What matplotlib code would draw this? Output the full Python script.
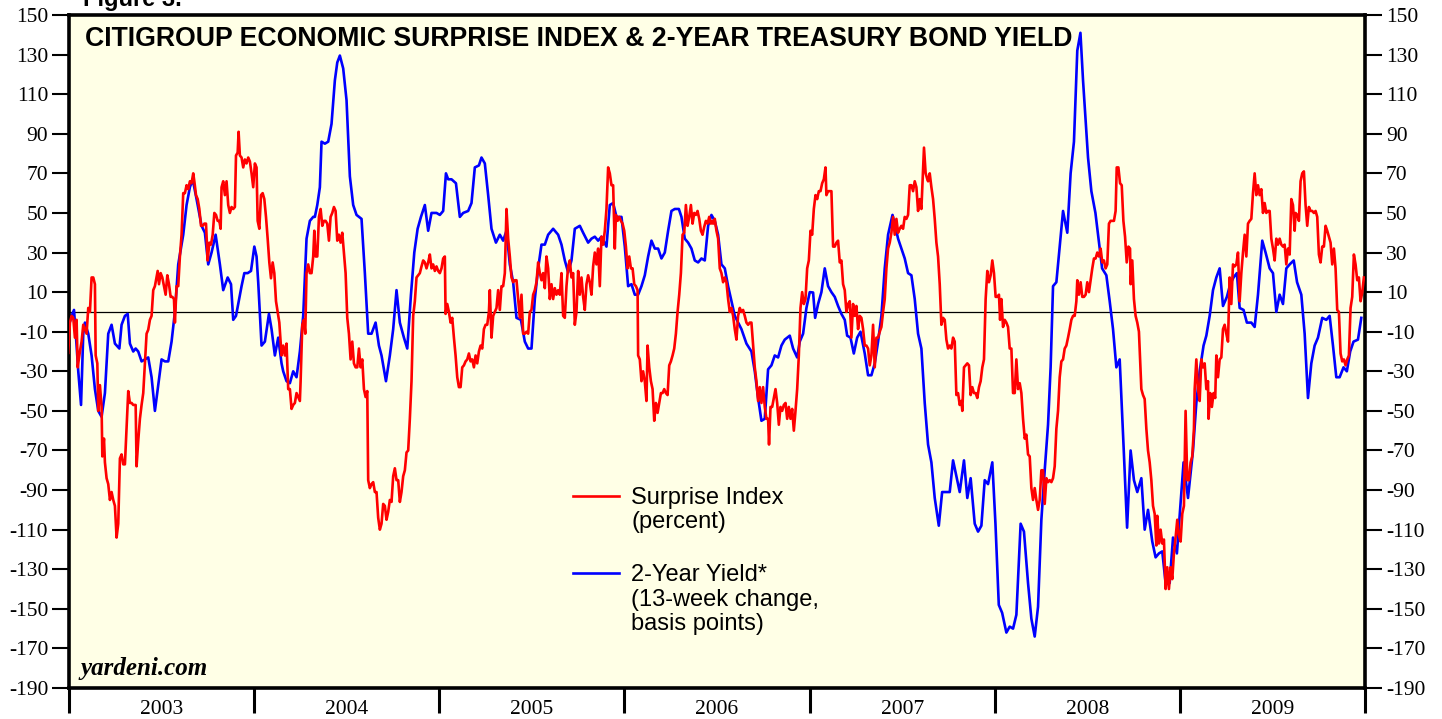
import matplotlib
matplotlib.use("Agg")
import matplotlib.pyplot as plt
from matplotlib.ticker import FixedLocator, NullFormatter

# Citigroup Economic Surprise Index (percent), decimal year / value
surprise_t = [
    2002.996, 2003.005, 2003.014, 2003.023, 2003.032, 2003.041, 2003.047, 2003.059, 2003.068, 2003.077,
    2003.086, 2003.095, 2003.104, 2003.113, 2003.122, 2003.131, 2003.140, 2003.144, 2003.153, 2003.158,
    2003.167, 2003.176, 2003.180, 2003.189, 2003.194, 2003.203, 2003.212, 2003.221, 2003.230, 2003.239,
    2003.248, 2003.257, 2003.266, 2003.275, 2003.284, 2003.293, 2003.302, 2003.311, 2003.320, 2003.329,
    2003.338, 2003.347, 2003.360, 2003.365, 2003.374, 2003.383, 2003.392, 2003.401, 2003.410, 2003.419,
    2003.428, 2003.437, 2003.446, 2003.455, 2003.464, 2003.479, 2003.486, 2003.495, 2003.504, 2003.513,
    2003.522, 2003.531, 2003.540, 2003.549, 2003.558, 2003.567, 2003.572, 2003.581, 2003.590, 2003.599,
    2003.608, 2003.617, 2003.626, 2003.635, 2003.644, 2003.653, 2003.662, 2003.671, 2003.677, 2003.686,
    2003.695, 2003.704, 2003.713, 2003.722, 2003.731, 2003.740, 2003.749, 2003.758, 2003.767, 2003.776,
    2003.785, 2003.794, 2003.803, 2003.812, 2003.819, 2003.824, 2003.833, 2003.842, 2003.851, 2003.860,
    2003.869, 2003.878, 2003.887, 2003.896, 2003.902, 2003.911, 2003.916, 2003.923, 2003.932, 2003.941,
    2003.950, 2003.959, 2003.968, 2003.977, 2003.986, 2003.995, 2004.004, 2004.013, 2004.019, 2004.028,
    2004.037, 2004.046, 2004.055, 2004.064, 2004.073, 2004.082, 2004.091, 2004.100, 2004.109, 2004.118,
    2004.127, 2004.136,
    2004.148, 2004.157, 2004.166, 2004.175, 2004.184, 2004.193, 2004.202, 2004.211, 2004.220, 2004.229,
    2004.238, 2004.247, 2004.251, 2004.260, 2004.269, 2004.276, 2004.283, 2004.292, 2004.301, 2004.310,
    2004.319, 2004.325, 2004.332, 2004.341, 2004.350, 2004.359, 2004.368, 2004.377, 2004.386, 2004.395,
    2004.404, 2004.413, 2004.422, 2004.431, 2004.440, 2004.449, 2004.458, 2004.467, 2004.476, 2004.485,
    2004.494, 2004.503, 2004.512, 2004.521, 2004.530, 2004.539, 2004.548, 2004.557, 2004.566, 2004.575,
    2004.584, 2004.593, 2004.602, 2004.611, 2004.616, 2004.625, 2004.634, 2004.643, 2004.652, 2004.661,
    2004.670, 2004.679, 2004.688, 2004.697, 2004.706, 2004.715, 2004.724, 2004.733, 2004.742, 2004.751,
    2004.760, 2004.769, 2004.778, 2004.787, 2004.796, 2004.805, 2004.814, 2004.823, 2004.832, 2004.841,
    2004.850, 2004.859, 2004.868, 2004.877, 2004.886, 2004.895, 2004.904, 2004.913, 2004.922, 2004.931,
    2004.940, 2004.949, 2004.958, 2004.967, 2004.976, 2004.985, 2004.994, 2005.003, 2005.012, 2005.021,
    2005.030, 2005.034, 2005.043, 2005.052, 2005.061, 2005.070, 2005.079, 2005.088, 2005.097, 2005.106,
    2005.115, 2005.124, 2005.133, 2005.142, 2005.151, 2005.160, 2005.169, 2005.178, 2005.187, 2005.196,
    2005.205, 2005.214, 2005.223, 2005.232, 2005.241, 2005.250, 2005.259, 2005.268, 2005.273, 2005.282,
    2005.291, 2005.300,
    2005.309, 2005.318, 2005.327, 2005.336, 2005.345, 2005.354, 2005.363, 2005.372, 2005.381, 2005.390,
    2005.399, 2005.408, 2005.417, 2005.426, 2005.435, 2005.444, 2005.453, 2005.462, 2005.471, 2005.480,
    2005.489, 2005.498, 2005.507, 2005.516, 2005.525, 2005.534, 2005.543, 2005.552, 2005.561, 2005.570,
    2005.579, 2005.588, 2005.597, 2005.606, 2005.615, 2005.624, 2005.633, 2005.642, 2005.651, 2005.660,
    2005.669, 2005.678, 2005.687, 2005.696, 2005.705, 2005.714, 2005.723, 2005.732, 2005.741, 2005.750,
    2005.759, 2005.768, 2005.777, 2005.786, 2005.795, 2005.804, 2005.813, 2005.822, 2005.831, 2005.840,
    2005.849, 2005.858, 2005.867, 2005.876, 2005.885, 2005.894, 2005.903, 2005.912, 2005.921, 2005.930,
    2005.939, 2005.948, 2005.954, 2005.963, 2005.972, 2005.981, 2005.990, 2005.999, 2006.008, 2006.017,
    2006.026, 2006.035, 2006.044, 2006.053, 2006.062, 2006.071, 2006.074, 2006.083, 2006.092, 2006.101,
    2006.110, 2006.119, 2006.125, 2006.134, 2006.143, 2006.152, 2006.161, 2006.170, 2006.179, 2006.188,
    2006.197, 2006.206, 2006.215, 2006.224, 2006.233, 2006.242, 2006.251, 2006.260, 2006.269, 2006.278,
    2006.287, 2006.296, 2006.305, 2006.314, 2006.323, 2006.332, 2006.341, 2006.350, 2006.359, 2006.368,
    2006.377, 2006.386, 2006.395, 2006.404, 2006.413, 2006.422, 2006.431, 2006.440, 2006.449, 2006.458,
    2006.467, 2006.476,
    2006.479, 2006.488, 2006.497, 2006.506, 2006.515, 2006.524, 2006.533, 2006.542, 2006.551, 2006.560,
    2006.569, 2006.578, 2006.587, 2006.596, 2006.605, 2006.614, 2006.623, 2006.632, 2006.641, 2006.650,
    2006.659, 2006.668, 2006.677, 2006.686, 2006.695, 2006.704, 2006.713, 2006.722, 2006.731, 2006.740,
    2006.749, 2006.758, 2006.767, 2006.776, 2006.781, 2006.789, 2006.798, 2006.807, 2006.816, 2006.825,
    2006.834, 2006.843, 2006.852, 2006.861, 2006.870, 2006.879, 2006.888, 2006.897, 2006.906, 2006.915,
    2006.924, 2006.933, 2006.942, 2006.951, 2006.960, 2006.969, 2006.978, 2006.987, 2006.996, 2007.005,
    2007.014, 2007.023, 2007.032, 2007.041, 2007.050, 2007.059, 2007.068, 2007.077, 2007.086, 2007.091,
    2007.100, 2007.109, 2007.118, 2007.127, 2007.136, 2007.145, 2007.154, 2007.163, 2007.172, 2007.181,
    2007.190, 2007.199, 2007.208, 2007.217, 2007.226, 2007.235, 2007.244, 2007.253, 2007.262, 2007.271,
    2007.280, 2007.289, 2007.298, 2007.307, 2007.316, 2007.325, 2007.334, 2007.343, 2007.352, 2007.361,
    2007.370, 2007.379, 2007.388, 2007.397, 2007.406, 2007.415, 2007.424, 2007.433, 2007.442, 2007.451,
    2007.460, 2007.469, 2007.478, 2007.487, 2007.496, 2007.505, 2007.514, 2007.523, 2007.532, 2007.541,
    2007.550, 2007.559, 2007.568, 2007.577, 2007.586, 2007.595, 2007.604, 2007.613, 2007.618, 2007.627,
    2007.636,
    2007.640, 2007.649, 2007.658, 2007.667, 2007.676, 2007.685, 2007.694, 2007.703, 2007.712, 2007.721,
    2007.730, 2007.739, 2007.748, 2007.757, 2007.766, 2007.775, 2007.784, 2007.793, 2007.802, 2007.811,
    2007.820, 2007.825, 2007.834, 2007.843, 2007.852, 2007.861, 2007.870, 2007.879, 2007.888, 2007.897,
    2007.906, 2007.915, 2007.924, 2007.933, 2007.942, 2007.951, 2007.960, 2007.969, 2007.978, 2007.987,
    2007.996, 2008.005, 2008.014, 2008.023, 2008.029, 2008.036, 2008.045, 2008.054, 2008.063, 2008.072,
    2008.081, 2008.090, 2008.099, 2008.108, 2008.117, 2008.126, 2008.135, 2008.144, 2008.153, 2008.162,
    2008.171, 2008.180, 2008.189, 2008.198, 2008.207, 2008.216, 2008.225, 2008.234, 2008.243, 2008.252,
    2008.261, 2008.270, 2008.279, 2008.288, 2008.297, 2008.306, 2008.315, 2008.324, 2008.333, 2008.342,
    2008.351, 2008.360, 2008.369, 2008.378, 2008.387, 2008.396, 2008.405, 2008.414, 2008.423, 2008.432,
    2008.441, 2008.446, 2008.455, 2008.464, 2008.473, 2008.482, 2008.491, 2008.500, 2008.509, 2008.518,
    2008.527, 2008.536, 2008.545, 2008.554, 2008.563, 2008.572, 2008.581, 2008.590, 2008.599, 2008.608,
    2008.617, 2008.626, 2008.635, 2008.644, 2008.653, 2008.659, 2008.668, 2008.677, 2008.686, 2008.695,
    2008.704, 2008.713, 2008.722, 2008.731, 2008.734, 2008.743, 2008.752, 2008.761, 2008.770, 2008.779,
    2008.792, 2008.801, 2008.810, 2008.819, 2008.828, 2008.837, 2008.846, 2008.855, 2008.864, 2008.873,
    2008.878, 2008.887, 2008.896, 2008.905, 2008.914, 2008.923, 2008.932, 2008.941, 2008.950, 2008.959,
    2008.968, 2008.977, 2008.986, 2008.995, 2009.004, 2009.013, 2009.022, 2009.031, 2009.040, 2009.049,
    2009.058, 2009.067, 2009.076, 2009.080, 2009.089, 2009.098, 2009.107, 2009.116, 2009.125, 2009.134,
    2009.143, 2009.152, 2009.155, 2009.164, 2009.173, 2009.182, 2009.191, 2009.197, 2009.206, 2009.215,
    2009.224, 2009.233, 2009.242, 2009.251, 2009.260, 2009.269, 2009.278, 2009.287, 2009.296, 2009.305,
    2009.314, 2009.323, 2009.332, 2009.341, 2009.350, 2009.359, 2009.368, 2009.377, 2009.386, 2009.395,
    2009.404, 2009.413, 2009.422, 2009.431, 2009.440, 2009.449, 2009.458, 2009.467, 2009.476, 2009.485,
    2009.494, 2009.503, 2009.512, 2009.521, 2009.530, 2009.539, 2009.548, 2009.557, 2009.566, 2009.575,
    2009.584, 2009.593, 2009.602, 2009.611, 2009.620, 2009.625, 2009.634, 2009.643, 2009.652, 2009.661,
    2009.670, 2009.679, 2009.688, 2009.697, 2009.706, 2009.715, 2009.724, 2009.733, 2009.742, 2009.751,
    2009.760, 2009.769, 2009.778, 2009.787, 2009.796, 2009.805, 2009.814, 2009.823, 2009.832, 2009.841,
    2009.850, 2009.859, 2009.868, 2009.877, 2009.886, 2009.895, 2009.904, 2009.913, 2009.922, 2009.931,
    2009.940, 2009.949, 2009.958, 2009.967, 2009.976, 2009.985, 2009.994,
]
surprise_v = [
    -20.7, -5.4, -2, -3, -13, -4, -28, -20, -15, -6.5,
    -8.7, -11, 2, 0, 17.4, 17.4, 14, -22, -26, -50,
    -37, -48, -73, -64, -76, -84, -87, -95, -91, -95,
    -98, -114, -107, -74, -72, -77, -77, -59, -40, -46,
    -46, -47, -47, -78, -65, -54, -47, -41, -26, -11,
    -9, -4, -2, 11, 13, 20.7, 14, 19.6, 17.4, 13,
    8.7, 18.5, 14, 7.6, 7.6, 6.5, -5.4, 13, 13, 28,
    39, 60, 60, 64, 62, 66, 65, 70, 66, 59,
    57, 52, 43.5, 43.5, 44.6, 44.6, 26, 35, 34, 39,
    50, 49, 46, 46, 42, 63, 66, 59, 66, 54,
    50, 53, 52, 53, 79, 80.5, 91, 79, 78, 73,
    77, 75, 78, 76, 70, 63, 75, 73, 46, 42,
    59, 60, 57, 48, 37, 25, 17, 25, 19.6, 5.4,
    0, -5.4,
    -22, -17, -22, -16, -39, -39, -49, -47, -46, -41,
    -43, -45, -35, -6.5, -4, -11, 19.6, 24, 19.6, 19.6,
    28, 41, 28, 28, 48, 52, 43.5, 46, 46, 44.6,
    36, 48, 50, 53, 51, 36, 39, 35, 40, 30,
    19.6, -3, -11, -24, -15, -26, -28, -28, -18.5, -28,
    -24, -39, -43, -40, -85, -89, -87, -86, -91, -91,
    -104, -110, -107, -97, -98, -105, -101, -95, -96, -83,
    -79, -85, -85, -96, -91, -83, -80, -71, -70, -54,
    -35, -2, 5.4, 17.4, 18.5, 19.6, 23, 26, 25, 22,
    25, 29, 22, 24, 20.7, 23, 20.7, 19.6, 22, 27,
    28, -1, 4, 0, -5.4, -3, -13, -22, -33, -38,
    -38, -28, -27, -25, -24, -21, -25, -24, -28, -22,
    -26, -20, -17, -18.5, -8.7, -6.5, -6.5, 0, 11, -13,
    -2, 0,
    2, 11, 1, 13, 13, 19.6, 52, 37, 28, 17.4,
    15, 16, 16, 6.5, -3, 8.7, -11, -11, -10, -11,
    0, 1, 8.7, 11, 15, 25, 19.6, 16, 19.6, 12,
    28, 22, 6.5, 14, 6.5, 12, 8.7, 11, 8.7, 19.6,
    -2, -3, 13, 23, 26, 17.4, 19.6, -6.5, 0, 20.7,
    8.7, 17.4, 7.6, 1, 14, 18.5, 15, 8.7, 23, 30,
    24, 32, 13, 38, 34, 41, 52, 73, 70, 64,
    64, 32, 49, 46, 48, 46, 44.6, 41, 33, 22,
    28, 22, 22, 14, 13, 11, -22, -24, -35, -30,
    -35, -45, -17, -28, -35, -39, -55, -46, -51, -46,
    -41, -41, -39, -41, -42, -27, -25, -22, -18.5, -11,
    0, 8.7, 19.6, 39, 40, 54, 43.5, 48, 54, 44.6,
    50, 49, 51, 47, 41, 39, 43, 46, 44.6, 48,
    44.6, 46,
    44.6, 47, 41, 37, 22, 19.6, 15, 17.4, 15, 6.5,
    0, 2, -2, -8.7, -14, -2, 2, 0, 1, -2,
    -5.4, -6.5, -5.4, -5.4, -17, -28, -35, -45, -38, -46,
    -38, -48, -54, -54, -67, -48, -48, -43.5, -39, -46,
    -57, -48, -50, -47, -46, -54, -48, -54, -49, -60,
    -50, -39, -22, 2, 10, 4, 6.5, 22, 26, 41,
    39, 52, 59, 57, 61, 61, 65, 67, 73, 59,
    61, 61, 61, 33, 33, 35, 36, 25, 26, 14,
    11, 0, 4, 5.4, -13, 4, -2, 3, -8.7, -2,
    -3, -8.7, -17, -17, -18.5, -27, -22, -6.5, -28, -13,
    -13, -10, -7.6, 0, 6.5, 22, 32, 35, 40, 48,
    39, 47, 40, 42, 43.5, 42, 48, 47, 49, 64,
    64, 61, 66, 63, 51, 57, 52, 72, 83, 70,
    67,
    66, 70, 63, 57, 47, 35, 28, 14, -6.5, -3,
    -4, -14, -18.5, -17, -18.5, -13, -15, -42, -41, -47,
    -45, -50, -28, -27, -26, -27, -42, -38, -41, -41,
    -43.5, -38, -35, -28, -24, 6.5, 20.7, 15, 18.5, 26,
    19.6, 7.6, 7.6, 8.7, -4, 6.5, -7.6, -4, -5.4, -7.6,
    -18.5, -18.5, -41, -41, -24, -39, -36, -41, -54, -64,
    -62, -72, -73, -89, -95, -89, -95, -100, -95, -80,
    -80, -97, -84, -86, -85, -86, -84, -78, -59, -50,
    -33, -25, -24, -18.5, -17, -13, -8.7, -4, -2, -2,
    5.4, 16, 8.7, 15, 7.6, 7.6, 8.7, 15, 10, 16,
    22, 27, 27, 30, 28, 32, 25, 26, 22, 24,
    44.6, 46, 46, 46, 51, 73, 73, 65, 64, 46,
    38, 25, 33, 32, 14, 26, 6.5, -2, -5.4, -10,
    -39, -42, -44, -59, -70, -76, -85, -98, -102, -118,
    -103, -117, -110, -117, -115, -140, -129, -140, -129, -135,
    -122, -114, -105, -113, -116, -102, -98, -50, -85, -85,
    -76, -73, -59, -39, -24, -39, -45, -24, -28, -26,
    -39, -35, -54, -41, -48, -41, -43.5, -22, -33, -24,
    -23, -8.7, -6.5, -11, -15, 17.4, 4, 24, 23, 24,
    30, 5.4, 19.6, 30, 39, 28, 44.6, 46, 47, 60,
    70, 59, 64, 59, 62, 50, 55, 50, 51, 51,
    37, 32, 26, 37, 34, 37, 34, 33, 34, 24,
    32, 29, 57, 54, 41, 50, 49, 46, 66, 70,
    71, 54, 43.5, 53, 51, 51, 50, 51, 48, 29,
    25, 33, 33, 43.5, 41, 38, 35, 24, 32, 22,
    1, 0, -21, -25, -24, -27, -24, -22, 2, 7.6,
    29, 24, 16, 17.4, 5.4, 9.8, 17.4,
]

# 2-Year Treasury yield, 13-week change in basis points
yield_t = [
    2003.000, 2003.014, 2003.027, 2003.041, 2003.050, 2003.065, 2003.077, 2003.086, 2003.104, 2003.122,
    2003.140, 2003.158, 2003.176, 2003.194, 2003.212, 2003.230, 2003.248, 2003.272, 2003.284, 2003.302,
    2003.317, 2003.329, 2003.347, 2003.360, 2003.374, 2003.392, 2003.410, 2003.428, 2003.446, 2003.464,
    2003.482, 2003.500, 2003.518, 2003.536, 2003.554, 2003.572, 2003.590, 2003.617, 2003.635, 2003.653,
    2003.668, 2003.689, 2003.716, 2003.734, 2003.752, 2003.770, 2003.792, 2003.815, 2003.833, 2003.857,
    2003.875, 2003.887, 2003.902, 2003.914, 2003.932, 2003.947, 2003.965, 2003.983, 2004.001, 2004.013,
    2004.022, 2004.040, 2004.058, 2004.080, 2004.094, 2004.112, 2004.130, 2004.148,
    2004.157, 2004.175, 2004.193, 2004.211, 2004.229, 2004.247, 2004.265, 2004.283, 2004.301, 2004.319,
    2004.328, 2004.341, 2004.355, 2004.364, 2004.382, 2004.400, 2004.418, 2004.436, 2004.449, 2004.463,
    2004.481, 2004.499, 2004.517, 2004.535, 2004.553, 2004.580, 2004.598, 2004.616, 2004.634, 2004.656,
    2004.674, 2004.688, 2004.712, 2004.733, 2004.751, 2004.769, 2004.787, 2004.809, 2004.827, 2004.847,
    2004.865, 2004.883, 2004.901, 2004.922, 2004.940, 2004.958, 2004.985, 2005.003, 2005.021, 2005.036,
    2005.048, 2005.066, 2005.090, 2005.111, 2005.129, 2005.156, 2005.174, 2005.192, 2005.214, 2005.228,
    2005.246, 2005.264, 2005.282, 2005.306, 2005.327,
    2005.345, 2005.363, 2005.381, 2005.399, 2005.417, 2005.441, 2005.462, 2005.480, 2005.498, 2005.516,
    2005.534, 2005.552, 2005.570, 2005.588, 2005.615, 2005.642, 2005.660, 2005.678, 2005.696, 2005.714,
    2005.732, 2005.759, 2005.777, 2005.804, 2005.822, 2005.840, 2005.858, 2005.876, 2005.903, 2005.921,
    2005.939, 2005.957, 2005.984, 2006.002, 2006.020, 2006.038, 2006.056, 2006.074, 2006.092, 2006.110,
    2006.128, 2006.146, 2006.164, 2006.182, 2006.200, 2006.218, 2006.236, 2006.254, 2006.272, 2006.294,
    2006.308, 2006.326, 2006.344, 2006.362, 2006.380, 2006.398, 2006.416, 2006.434, 2006.452, 2006.470,
    2006.488,
    2006.506, 2006.524, 2006.542, 2006.560, 2006.578, 2006.596, 2006.614, 2006.632, 2006.659, 2006.686,
    2006.704, 2006.722, 2006.740, 2006.758, 2006.776, 2006.794, 2006.812, 2006.830, 2006.848, 2006.866,
    2006.893, 2006.911, 2006.933, 2006.947, 2006.965, 2006.983, 2007.001, 2007.019, 2007.030, 2007.046,
    2007.064, 2007.082, 2007.100, 2007.118, 2007.136, 2007.154, 2007.172, 2007.190, 2007.203, 2007.221,
    2007.239, 2007.257, 2007.275, 2007.298, 2007.316, 2007.334, 2007.352, 2007.370, 2007.388, 2007.406,
    2007.424, 2007.448, 2007.466, 2007.478, 2007.496, 2007.514, 2007.532, 2007.550, 2007.568, 2007.586,
    2007.604, 2007.622,
    2007.640, 2007.658, 2007.676, 2007.698, 2007.716, 2007.739, 2007.757, 2007.775, 2007.793, 2007.811,
    2007.834, 2007.852, 2007.870, 2007.892, 2007.910, 2007.928, 2007.946, 2007.964, 2007.987, 2008.004,
    2008.022, 2008.040, 2008.063, 2008.081, 2008.099, 2008.117, 2008.140, 2008.158, 2008.180, 2008.198,
    2008.216, 2008.234, 2008.252, 2008.270, 2008.288, 2008.302, 2008.315, 2008.333, 2008.351, 2008.369,
    2008.392, 2008.410, 2008.428, 2008.446, 2008.463, 2008.477, 2008.504, 2008.522, 2008.544, 2008.562,
    2008.580, 2008.603, 2008.621, 2008.639, 2008.657, 2008.675, 2008.697, 2008.715, 2008.734, 2008.752,
    2008.770, 2008.792,
    2008.810, 2008.828, 2008.851, 2008.869, 2008.887, 2008.905, 2008.923, 2008.945, 2008.963, 2008.984,
    2008.999, 2009.020, 2009.044, 2009.071, 2009.089, 2009.107, 2009.128, 2009.143, 2009.161, 2009.179,
    2009.197, 2009.215, 2009.233, 2009.254, 2009.272, 2009.290, 2009.308, 2009.323, 2009.344, 2009.362,
    2009.386, 2009.404, 2009.422, 2009.445, 2009.463, 2009.485, 2009.503, 2009.521, 2009.539, 2009.557,
    2009.575, 2009.593, 2009.615, 2009.633, 2009.656, 2009.674, 2009.692, 2009.710, 2009.728, 2009.746,
    2009.769, 2009.791, 2009.809, 2009.827, 2009.845, 2009.863, 2009.884, 2009.902, 2009.920, 2009.938,
    2009.962, 2009.980,
]
yield_v = [
    -6.5, -2, 1, -17, -30, -47, -11, -5.4, -11, -22,
    -39, -50, -53, -41, -11, -6.5, -16, -18.5, -6.5, -2,
    -1, -16, -20, -18.5, -20, -25, -24, -23, -33, -50,
    -37, -24, -25, -25, -15, 0, 24, 39, 54, 63,
    67, 57, 43.5, 40, 24, 30, 39, 24, 11, 17.4,
    14, -4, -2, 4, 13, 19.6, 19.6, 20.7, 33, 28,
    15, -17, -15, -1, -8.7, -22, -13, -26,
    -30, -35, -36, -30, -33, -20, -2, 37, 46, 48,
    48, 54, 63, 86, 85, 86, 95, 117, 126, 129.5,
    123, 107, 68.5, 54, 49, 47, 19.6, -11, -11, -5.4,
    -17, -22, -35, -22, -8.7, 11, -5.4, -13, -18.5, 8.7,
    30, 42, 48, 54, 41, 50, 50, 49, 51, 70,
    67, 67, 65, 48, 50, 51, 55, 73, 74, 78,
    75, 59, 42, 35, 39,
    36, 41, 24, 15, -3, -4, -15, -18.5, -18.5, 6.5,
    22, 34, 34, 39, 42, 39, 34, 26, 20, 26,
    42, 43.5, 40, 35, 37, 38, 36, 38, 33, 54,
    55, 48, 48, 33, 13, 14, 8.7, 8.7, 13, 18.5,
    28, 36, 32, 32, 27, 30, 41, 51, 52, 52,
    48, 37, 35, 32, 26, 25, 27, 26, 43.5, 49,
    46,
    39, 24, 22, 13, 5.4, -2, -5.4, -8.7, -16, -20,
    -30, -43.5, -55, -54, -29, -27, -22, -23, -17, -14,
    -12, -18.5, -23, -15, -11, 2, 10, 9.8, -3, 4,
    10, 22, 13, 10, 7.6, 3, -1, -4, -12, -13,
    -21, -13, -10, -21, -32, -32, -26, -15, -2, 22,
    39, 49, 42, 37, 32, 27, 19.6, 18.5, 6.5, -11,
    -18.5, -46,
    -67, -76, -94, -108, -91, -91, -91, -75, -83, -91,
    -75, -94, -84, -107, -111, -108, -85, -87, -76, -107,
    -148, -152, -162, -159, -160, -153, -107, -111, -137, -155,
    -164, -149, -105, -80, -57, -28, 13, 15, 33, 51,
    40, 70, 86, 132, 141, 117, 78, 61, 50, 36,
    22, 18.5, 5.4, -8.7, -28, -24, -70, -109, -70, -85,
    -91, -84,
    -110, -100, -116, -124, -122, -121, -137, -137, -114, -122,
    -103, -76, -94, -70, -46, -30, -17, -12, -2, 11,
    17.4, 22, 3, 7.6, 14, 17.4, 19.6, 2, 1, -5.4,
    -5.4, -7.6, 8.7, 36, 30, 22, 19.6, 0, 8.7, 4,
    22, 24, 26, 15, 8.7, -11, -43.5, -26, -17, -13,
    -3, -4, -2, -17, -33, -33, -28, -30, -20, -15,
    -14, -3,
]

year_labels = ["2003", "2004", "2005", "2006", "2007", "2008", "2009"]
y_ticks = list(range(-190, 151, 20))

serif = "Liberation Serif"
sans = "Liberation Sans"

fig = plt.figure(figsize=(14.42, 7.19), dpi=100)
ax = fig.add_axes([69 / 1442, 1 - 688 / 719, (1365 - 69) / 1442, (688 - 15) / 719])
ax.set_facecolor("#FFFFE6")

ax.axhline(0, color="black", lw=0.9, zorder=1)
ax.plot(yield_t, yield_v, color="#0000FF", lw=1.9, zorder=2)
ax.plot(surprise_t, surprise_v, color="#FF0000", lw=1.9, zorder=3)

ax.set_xlim(2003, 2010)
ax.set_ylim(-190, 150)

ax.set_yticks(y_ticks)
ax.set_yticklabels([str(t) for t in y_ticks], fontfamily=serif, fontsize=15.5)
ax.tick_params(axis="y", which="major", direction="out", length=12, width=1.5,
               left=True, right=True, labelleft=True, labelright=True, pad=3)

years = [2003 + i for i in range(len(year_labels) + 1)]
ax.xaxis.set_major_locator(FixedLocator(years))
ax.xaxis.set_major_formatter(NullFormatter())
ax.xaxis.set_minor_locator(FixedLocator([y + 0.5 for y in years[:-1]]))
ax.set_xticklabels(year_labels, minor=True, fontfamily=serif, fontsize=15.5)
ax.tick_params(axis="x", which="major", direction="out", length=18, width=2.2)
ax.tick_params(axis="x", which="minor", length=0, pad=8.5)

for side in ["left", "right", "top", "bottom"]:
    ax.spines[side].set_linewidth(2.6)

ax.text(0.0125, 0.964, "CITIGROUP ECONOMIC SURPRISE INDEX & 2-YEAR TREASURY BOND YIELD",
        transform=ax.transAxes, fontfamily=sans, fontweight="bold", fontsize=19.2,
        va="center", ha="left")
ax.text(0.009, 0.012, "yardeni.com", transform=ax.transAxes, fontfamily=serif,
        fontweight="bold", style="italic", fontsize=18, va="bottom", ha="left")

# legend drawn by hand to mimic the original layout
legend_x0, legend_x1 = 0.389, 0.424
ax.plot([legend_x0, legend_x1], [0.285, 0.285], transform=ax.transAxes, color="#FF0000", lw=1.9)
ax.plot([legend_x0, legend_x1], [0.171, 0.171], transform=ax.transAxes, color="#0000FF", lw=1.9)
ax.text(0.434, 0.299, "Surprise Index\n(percent)", transform=ax.transAxes, fontfamily=sans,
        fontsize=17, va="top", ha="left", linespacing=1.15)
ax.text(0.434, 0.184, "2-Year Yield*\n(13-week change,\nbasis points)", transform=ax.transAxes,
        fontfamily=sans, fontsize=17, va="top", ha="left", linespacing=1.15)

fig.text(83 / 1442, 1 - 6 / 719, "Figure 3.", fontfamily=sans, fontweight="bold",
         fontsize=17, va="baseline", ha="left")

fig.savefig("out.png", dpi=100, facecolor="white")
